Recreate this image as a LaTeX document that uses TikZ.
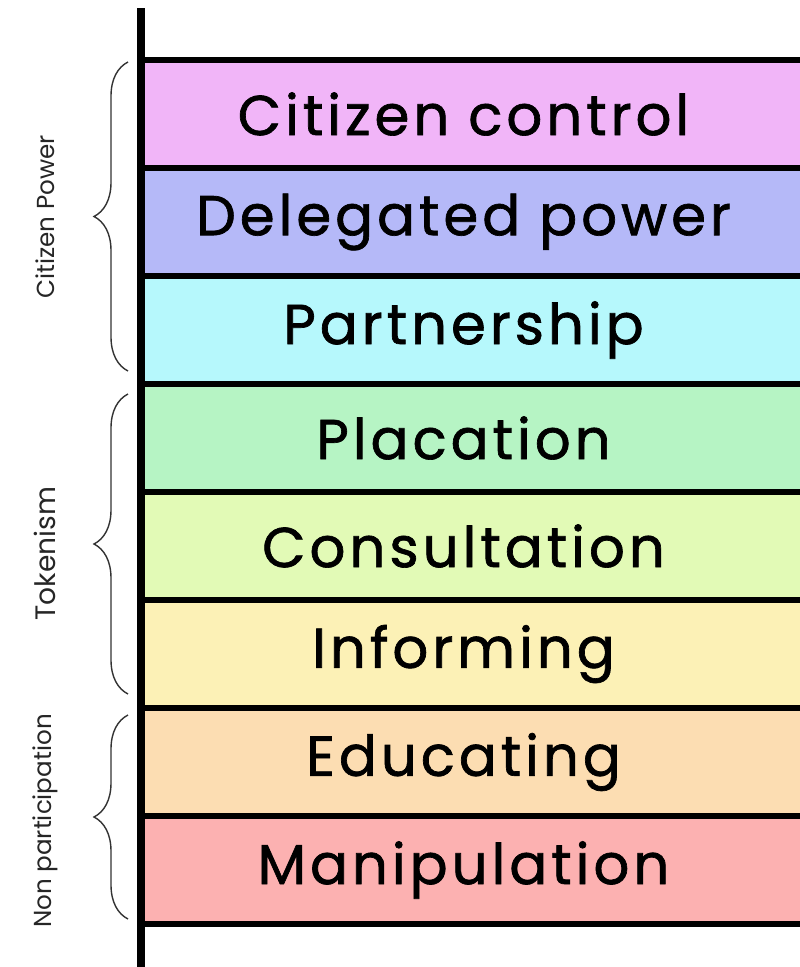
\documentclass[tikz,border=0pt]{standalone}
\usepackage{fontspec}
\setmainfont{Poppins}
\newfontfamily\rungfont[LetterSpace=7,FakeBold=1.2]{Poppins}
\usetikzlibrary{positioning,calc,decorations.pathreplacing}
\definecolor{ccpink}{RGB}{241,181,248}
\definecolor{dplav}{RGB}{181,185,248}
\definecolor{ptcyan}{RGB}{182,248,252}
\definecolor{plgreen}{RGB}{182,244,196}
\definecolor{cslime}{RGB}{226,250,182}
\definecolor{inyellow}{RGB}{252,241,182}
\definecolor{edpeach}{RGB}{252,221,178}
\definecolor{mnred}{RGB}{252,177,177}

\begin{document}
\begin{tikzpicture}[band/.style = {draw, line width=3pt, rectangle, outer sep=0pt, minimum width=13.6cm, minimum height=2.16cm, font=\rungfont\fontsize{32}{36}\selectfont, execute at end node=\hspace*{0.7cm}},
grp/.style = {draw=black!80, line width=0.8pt, decorate, decoration={brace, amplitude=0.68cm}},
side/.style = {rotate=90, font=\fontsize{14}{16}\selectfont, text=black!85},
axis/.style = {line width=4pt}
]

\clip (0,0) rectangle (16,-19.34);

    \node [band, fill=ccpink, anchor=north west] (cc) at (2.82,-1.2) {Citizen control};
    \node [band, fill=dplav, below=0pt of cc] (dp) {Delegated power};
    \node [band, fill=ptcyan, below=0pt of dp] (pt) {Partnership};
    \node [band, fill=plgreen, below=0pt of pt] (pl) {Placation};
    \node [band, fill=cslime, below=0pt of pl] (cs) {Consultation};
    \node [band, fill=inyellow, below=0pt of cs] (in) {Informing};
    \node [band, fill=edpeach, below=0pt of in] (ed) {Educating};
    \node [band, fill=mnred, below=0pt of ed] (mn) {Manipulation};

    \coordinate (top) at (2.82,-0.16);
    \coordinate (bot) at (2.82,-19.5);
    \draw [axis] (top) -- (bot);

    \draw [grp] ([shift={(-0.26cm,0.26cm)}]pt.south west) -- ([shift={(-0.26cm,-0.04cm)}]cc.north west);
    \draw [grp] ([shift={(-0.26cm,0.28cm)}]in.south west) -- ([shift={(-0.26cm,-0.2cm)}]pl.north west);
    \draw [grp] ([shift={(-0.26cm,0.1cm)}]mn.south west) -- ([shift={(-0.26cm,-0.14cm)}]ed.north west);

    \node [side] (cpwr) at ($(cc.north west)!0.5!(pt.south west) + (-1.92,0.1)$) {Citizen Power};
    \node [side, font=\fontsize{16}{18}\selectfont] (tok) at ($(pl.north west)!0.5!(in.south west) + (-1.92,-0.15)$) {Tokenism};
    \node [side] (nonp) at ($(ed.north west)!0.5!(mn.south west) + (-1.92,-0.1)$) {Non participation};

\end{tikzpicture}
\end{document}
